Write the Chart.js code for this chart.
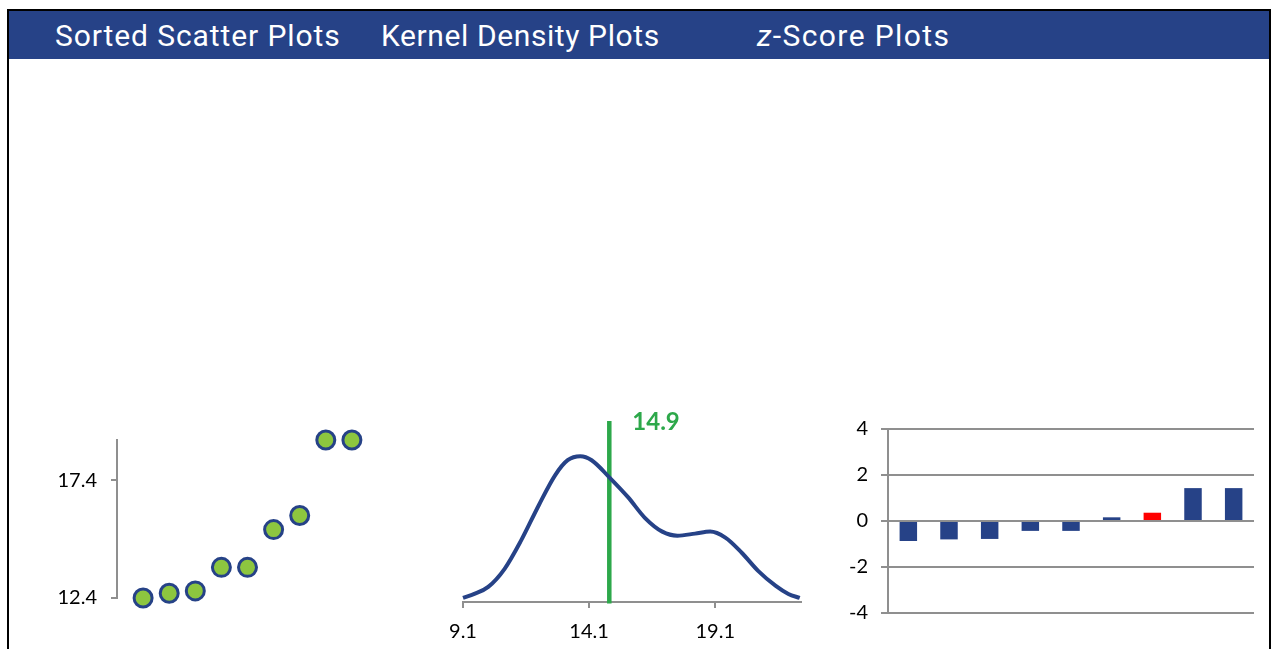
<!DOCTYPE html>
<html>
<head>
<meta charset="utf-8">
<script src="https://cdn.jsdelivr.net/npm/chart.js@4.4.1/dist/chart.umd.min.js"></script>
<style>
  body { margin: 0; background: #fff; width: 1272px; height: 649px; overflow: hidden; position: relative; }
  #frame { position: absolute; left: 7px; top: 9px; width: 1260px; height: 700px; border: 2px solid #000; border-bottom: none; }
  #header { position: absolute; left: 9px; top: 11px; width: 1260px; height: 48px; background: #264287; }
  .title { position: absolute; top: 21px; color: #fff; font-family: Roboto, sans-serif; font-size: 30px; line-height: 30px; letter-spacing: 0.9px; white-space: nowrap; }
  .box { position: absolute; }
  canvas { display: block; }
</style>
</head>
<body>
<div id="frame"></div>
<div id="header"></div>
<div class="title" style="left:55px">Sorted Scatter Plots</div>
<div class="title" style="left:381px;letter-spacing:0.6px">Kernel Density Plots</div>
<div class="title" style="left:757px;letter-spacing:1.4px"><i>z</i>-Score Plots</div>

<div class="box" style="left:40px;top:420px;width:350px;height:200px"><canvas id="scatterChart" width="350" height="200"></canvas></div>
<div class="box" style="left:440px;top:400px;width:380px;height:249px"><canvas id="kdeChart" width="380" height="249"></canvas></div>
<div class="box" style="left:830px;top:410px;width:442px;height:239px"><canvas id="zChart" width="442" height="239"></canvas></div>

<script>
// sorted values (scatter)
const sortedValues = [12.4, 12.6, 12.7, 13.7, 13.7, 15.3, 15.9, 19.1, 19.1];
const scatterTicks = [12.4, 17.4];

// kernel density curve
const kdeX = [9.1, 9.55, 10.1, 10.75, 11.4, 12.1, 12.75, 13.25, 13.75, 14.2, 14.9, 15.65, 16.3, 17.0, 17.6, 18.3, 18.9, 19.5, 20.15, 20.8, 21.5, 22.0, 22.45];
const kdeY = [0.004, 0.008, 0.015, 0.033, 0.061, 0.096, 0.126, 0.141, 0.145, 0.141, 0.124, 0.104, 0.084, 0.070, 0.066, 0.068, 0.070, 0.064, 0.049, 0.031, 0.016, 0.008, 0.004];
const kdeTicks = [9.1, 14.1, 19.1];
const meanValue = 14.9;

// z-scores
const zCategories = ["1", "2", "3", "4", "5", "6", "7", "8", "9"];
const zScores = [-0.87, -0.80, -0.78, -0.43, -0.43, 0.16, 0.36, 1.43, 1.43];
const highlightIndex = 6;

const blue = "#264287";
const green = "#2DA84A";
const axisGray = "#8f8f8f";

Chart.defaults.animation = false;
Chart.defaults.font.family = "Lato, sans-serif";
Chart.defaults.font.size = 20;
Chart.defaults.color = "#000";
Chart.defaults.plugins.legend.display = false;
Chart.defaults.plugins.tooltip.enabled = false;

// keep tick labels from pushing the plot area in
function noPad(s) {
    s.paddingTop = 0;
    s.paddingBottom = 0;
    s.paddingLeft = 0;
    s.paddingRight = 0;
}

// Sorted scatter
new Chart(document.getElementById("scatterChart"), {
    type: "scatter",
    data: {
        datasets: [{
            data: sortedValues.map((v, i) => ({ x: i + 1, y: v })),
            backgroundColor: "#8DC63F",
            borderColor: blue,
            borderWidth: 3,
            pointRadius: 9,
            clip: false
        }]
    },
    options: {
        responsive: false,
        layout: { padding: { top: 20, bottom: 22, right: 12, left: 0 } },
        scales: {
            x: { display: false, min: 0, max: 10 },
            y: {
                min: scatterTicks[0],
                max: sortedValues[sortedValues.length - 1],
                afterBuildTicks: s => { s.ticks = scatterTicks.map(v => ({ value: v })); },
                afterFit: s => { s.width = 77; noPad(s); },
                ticks: { padding: 14, callback: v => v.toFixed(1) },
                grid: { drawOnChartArea: false, tickLength: 6, color: axisGray, lineWidth: 2 },
                border: { color: axisGray, width: 2 }
            }
        }
    }
});

// Kernel density
const meanLabel = {
    id: "meanLabel",
    afterDatasetsDraw(chart) {
        const ctx = chart.ctx;
        const x = chart.scales.x.getPixelForValue(meanValue);
        const y = chart.scales.y.getPixelForValue(chart.scales.y.max);
        ctx.save();
        ctx.fillStyle = green;
        ctx.font = "bold 24px Lato, sans-serif";
        ctx.textAlign = "left";
        ctx.textBaseline = "middle";
        ctx.fillText(meanValue.toFixed(1), x + 23, y + 1);
        ctx.restore();
    }
};

new Chart(document.getElementById("kdeChart"), {
    type: "scatter",
    data: {
        datasets: [{
            data: kdeX.map((x, i) => ({ x: x, y: kdeY[i] })),
            showLine: true,
            borderColor: blue,
            borderWidth: 4,
            pointRadius: 0,
            cubicInterpolationMode: "monotone",
            clip: false
        }, {
            data: [{ x: meanValue, y: -0.0015 }, { x: meanValue, y: 0.18 }],
            showLine: true,
            borderColor: green,
            borderWidth: 4.5,
            pointRadius: 0,
            clip: false
        }]
    },
    options: {
        responsive: false,
        layout: { padding: { top: 21, bottom: 2, left: 23, right: 19 } },
        scales: {
            y: { display: false, min: 0, max: 0.18 },
            x: {
                min: kdeTicks[0],
                max: 22.5,
                afterBuildTicks: s => { s.ticks = kdeTicks.map(v => ({ value: v })); },
                afterFit: s => { s.height = 45; noPad(s); },
                ticks: { padding: 12, maxRotation: 0, callback: v => v.toFixed(1) },
                grid: { drawOnChartArea: false, tickLength: 6, color: axisGray, lineWidth: 2 },
                border: { color: axisGray, width: 2 }
            }
        }
    },
    plugins: [meanLabel]
});

// z-scores
new Chart(document.getElementById("zChart"), {
    type: "bar",
    data: {
        labels: zCategories,
        datasets: [{
            data: zScores,
            backgroundColor: zScores.map((v, i) => i === highlightIndex ? "#FF0000" : blue),
            categoryPercentage: 1,
            barPercentage: 0.43
        }]
    },
    options: {
        responsive: false,
        layout: { padding: { top: 19, bottom: 36, right: 18, left: 0 } },
        scales: {
            x: { display: false },
            y: {
                min: -4,
                max: 4,
                z: 1,
                afterFit: s => { s.width = 58; noPad(s); },
                ticks: { stepSize: 2, padding: 13 },
                grid: { tickLength: 7, color: axisGray, lineWidth: 2 },
                border: { color: axisGray, width: 2 }
            }
        }
    }
});
</script>
</body>
</html>
